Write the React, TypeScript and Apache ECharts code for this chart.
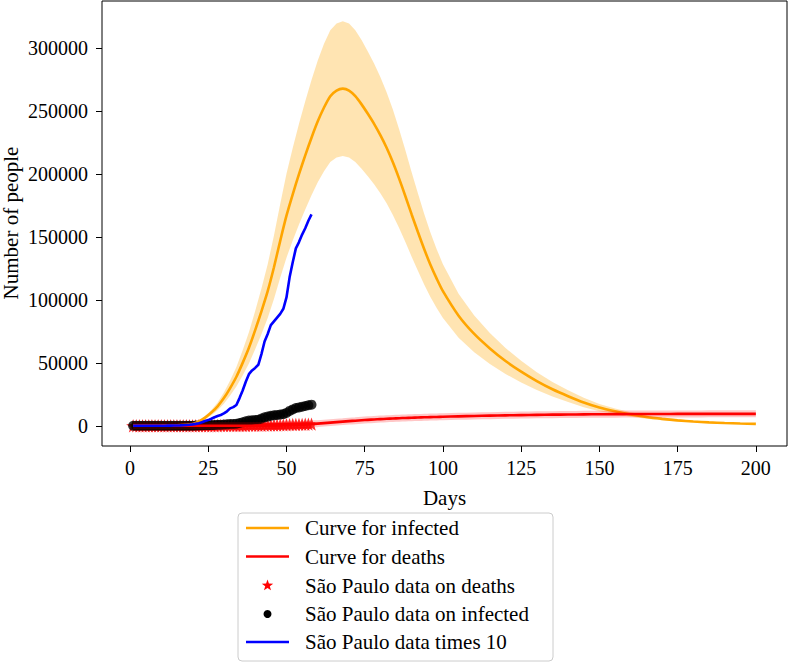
import React, { useEffect, useRef } from "react";
import * as echarts from "echarts";

// ---- model curves (days, values) ----
const modelDays = [1, 5, 10, 15, 18, 20, 22, 24, 26, 28, 30, 32, 34, 36, 38, 40, 42, 44, 46, 48, 50, 52, 54, 56, 58, 60, 62, 64, 66, 68, 70, 72, 74, 76, 78, 80, 82, 84, 86, 88, 90, 92, 94, 96, 98, 100, 105, 110, 115, 120, 125, 130, 135, 140, 145, 150, 155, 160, 165, 170, 175, 180, 185, 190, 195, 200];

const infectedCurve = [20, 50, 120, 350, 800, 1500, 3500, 6500, 10500, 15500, 22000, 30000, 39000, 50000, 62000, 76000, 91000, 107000, 126000, 147000, 167000, 184000, 200000, 215000, 229000, 242000, 253000, 262000, 266500, 268000, 266500, 262000, 255500, 248000, 240000, 231000, 221000, 209500, 196500, 182500, 168000, 154000, 140500, 128000, 117000, 107000, 87500, 73000, 61500, 51500, 43000, 35500, 29000, 23500, 18500, 14500, 11500, 9000, 7000, 5500, 4300, 3400, 2700, 2200, 1800, 1500];

const infectedLow = [16, 40, 96, 280, 640, 1200, 2800, 5200, 8400, 12400, 17600, 24000, 31200, 40000, 49600, 60800, 72800, 85600, 100800, 117600, 133600, 147200, 160000, 172000, 183200, 193600, 202400, 209600, 213200, 214400, 213200, 209600, 204400, 198400, 192000, 184800, 176800, 167600, 157200, 146000, 134400, 123200, 112400, 102400, 93600, 85600, 70000, 58400, 49200, 41200, 34400, 28400, 23200, 18800, 14800, 11600, 9200, 7200, 5600, 4400, 3440, 2720, 2160, 1760, 1440, 1200];

const infectedHigh = [24, 60, 144, 420, 960, 1800, 4200, 7800, 12600, 18600, 26400, 36000, 46800, 60000, 74400, 91200, 109200, 128400, 151200, 176400, 200400, 220800, 240000, 258000, 274800, 290400, 303600, 314400, 319800, 321600, 319800, 314400, 306600, 297600, 288000, 277200, 265200, 251400, 235800, 219000, 201600, 184800, 168600, 153600, 140400, 128400, 105000, 87600, 73800, 61800, 51600, 42600, 34800, 28200, 22200, 17400, 13800, 10800, 8400, 6600, 5160, 4080, 3240, 2640, 2160, 1800];

const deathsCurve = [0, 0, 0, 1, 1, 2, 3, 5, 7, 10, 14, 20, 30, 42, 60, 85, 120, 170, 240, 330, 450, 600, 800, 1050, 1350, 1700, 2100, 2500, 2900, 3300, 3700, 4050, 4400, 4720, 5020, 5300, 5560, 5800, 6020, 6220, 6400, 6570, 6730, 6880, 7020, 7150, 7480, 7780, 8050, 8290, 8500, 8680, 8830, 8960, 9070, 9160, 9240, 9300, 9350, 9390, 9420, 9440, 9460, 9470, 9480, 9490];

// ---- São Paulo data, days 1..58 ----
const spInfected = [1, 1, 1, 2, 2, 2, 2, 3, 3, 4, 6, 10, 13, 16, 19, 30, 46, 65, 80, 110, 152, 200, 280, 380, 450, 560, 680, 780, 860, 980, 1150, 1380, 1480, 1650, 2200, 2800, 3500, 4100, 4400, 4600, 4850, 5700, 6700, 7300, 8000, 8300, 8600, 8900, 9300, 10200, 11800, 13000, 14100, 14600, 15200, 15700, 16300, 16800];

const spDeaths = [0, 0, 0, 0, 0, 0, 0, 0, 0, 0, 0, 0, 0, 0, 0, 0, 0, 0, 0, 1, 2, 3, 4, 9, 15, 22, 30, 40, 48, 68, 84, 98, 111, 136, 164, 188, 218, 260, 275, 304, 371, 428, 496, 540, 560, 588, 608, 695, 778, 832, 853, 991, 1015, 1093, 1134, 1221, 1299, 1345];

const spTimes = 10;

const xTicks = [0, 25, 50, 75, 100, 125, 150, 175, 200];
const yTicks = [0, 50000, 100000, 150000, 200000, 250000, 300000];

const xAxisName = "Days";
const yAxisName = "Number of people";
const legendLabels = [
  "Curve for infected",
  "Curve for deaths",
  "São Paulo data on deaths",
  "São Paulo data on infected",
  "São Paulo data times 10",
];

const FONT = "Liberation Serif";
const WORD_SIZE = 21;
const STAR = "path://M0,-10 L2.35,-3.24 L9.51,-3.09 L3.8,1.24 L5.88,8.09 L0,4 L-5.88,8.09 L-3.8,1.24 L-9.51,-3.09 L-2.35,-3.24 Z";

function starPoints(cx: number, cy: number, r: number) {
  const pts: number[][] = [];
  for (let i = 0; i < 10; i++) {
    const a = -Math.PI / 2 + (i * Math.PI) / 5;
    const rr = i % 2 === 0 ? r : r * 0.4;
    pts.push([cx + rr * Math.cos(a), cy + rr * Math.sin(a)]);
  }
  return pts;
}

export default function App() {
  const ref = useRef<HTMLDivElement>(null);
  useEffect(() => {
    document.body.style.margin = "0";
    if (!ref.current) return;
    const chart = echarts.init(ref.current, null, { renderer: "svg" });
    const pairs = (xs: number[], ys: number[]) => xs.map((x, i) => [x, ys[i]]);
    const spDays = spInfected.map((_, i) => i + 1);

    const legX = 238, legY = 513, legW = 315, legH = 148;
    const rowY = [528, 556.5, 585.5, 614, 642];
    const hx0 = 246, hx1 = 289, hxc = 267.5, tx = 305;
    const graphics: any[] = [
      { type: "text", x: 11, y: 223, rotation: Math.PI / 2, style: { text: yAxisName, fill: "#000", fontFamily: FONT, fontSize: WORD_SIZE, align: "center", verticalAlign: "middle" } },
      { type: "rect", shape: { x: legX, y: legY, width: legW, height: legH, r: 4 }, style: { fill: "rgba(255,255,255,0.8)", stroke: "#cccccc", lineWidth: 1 } },
      { type: "line", shape: { x1: hx0, y1: rowY[0], x2: hx1, y2: rowY[0] }, style: { stroke: "#FFA500", lineWidth: 2.6 } },
      { type: "line", shape: { x1: hx0, y1: rowY[1], x2: hx1, y2: rowY[1] }, style: { stroke: "#FF0000", lineWidth: 2.6 } },
      { type: "polygon", shape: { points: starPoints(hxc, rowY[2], 6) }, style: { fill: "#FF0000" } },
      { type: "circle", shape: { cx: hxc, cy: rowY[3], r: 4 }, style: { fill: "#000000" } },
      { type: "line", shape: { x1: hx0, y1: rowY[4], x2: hx1, y2: rowY[4] }, style: { stroke: "#0000FF", lineWidth: 2.6 } },
    ];
    legendLabels.forEach((t, i) => {
      graphics.push({ type: "text", x: tx, y: rowY[i], style: { text: t, fill: "#000", fontFamily: FONT, fontSize: WORD_SIZE, verticalAlign: "middle" } });
    });

    const option: any = {
      animation: false,
      grid: { left: 102, right: 1, top: 1, bottom: 217, containLabel: false, outerBoundsMode: "none", show: true, borderColor: "#000", borderWidth: 1, backgroundColor: "transparent" },
      xAxis: {
        type: "value", min: -8.95, max: 209.95,
        name: xAxisName, nameLocation: "middle", nameGap: 41,
        nameTextStyle: { fontFamily: FONT, fontSize: WORD_SIZE, color: "#000" },
        axisLine: { show: false, onZero: false },
        splitLine: { show: false },
        axisTick: { show: true, inside: false, length: 6, customValues: xTicks, lineStyle: { color: "#000", width: 1 } },
        axisLabel: { customValues: xTicks, margin: 12, color: "#000", fontFamily: FONT, fontSize: 20, formatter: (v: number) => String(Math.round(v)) },
      },
      yAxis: {
        type: "value", min: -16080, max: 337680,
        axisLine: { show: false, onZero: false },
        splitLine: { show: false },
        axisTick: { show: true, inside: false, length: 6, customValues: yTicks, lineStyle: { color: "#000", width: 1 } },
        axisLabel: { customValues: yTicks, margin: 14, color: "#000", fontFamily: FONT, fontSize: 20, formatter: (v: number) => String(Math.round(v)) },
      },
      series: [
        {
          name: "infected-band", type: "custom", silent: true, clip: false,
          data: [[modelDays[0], infectedLow[0]]],
          renderItem: (_p: any, api: any) => {
            const top = modelDays.map((d, i) => api.coord([d, infectedHigh[i]]));
            const bottom = modelDays.map((d, i) => api.coord([d, infectedLow[i]])).reverse();
            return { type: "polygon", shape: { points: top.concat(bottom), smooth: 0 }, style: { fill: "rgba(255,165,0,0.3)", stroke: "none" } };
          },
        },
        { name: legendLabels[0], type: "line", data: pairs(modelDays, infectedCurve), symbol: "none", smooth: 0.25, lineStyle: { color: "#FFA500", width: 2.6 } },
        { name: "deaths-band", type: "line", data: pairs(modelDays, deathsCurve), symbol: "none", smooth: 0.25, lineStyle: { color: "rgba(255,0,0,0.22)", width: 7 }, silent: true },
        { name: legendLabels[1], type: "line", data: pairs(modelDays, deathsCurve), symbol: "none", smooth: 0.25, lineStyle: { color: "#FF0000", width: 2.6 } },
        { name: legendLabels[2], type: "scatter", data: pairs(spDays, spDeaths), symbol: STAR, symbolKeepAspect: true, symbolSize: 14, itemStyle: { color: "#FF0000" } },
        { name: legendLabels[3], type: "scatter", data: pairs(spDays, spInfected), symbol: "circle", symbolSize: 10, itemStyle: { color: "#000000" } },
        { name: legendLabels[4], type: "line", data: pairs(spDays, spInfected.map((v) => v * spTimes)), symbol: "none", lineStyle: { color: "#0000FF", width: 2.6 } },
      ],
      graphic: graphics,
    };
    chart.setOption(option);
    return () => chart.dispose();
  }, []);
  return <div ref={ref} style={{ width: 788, height: 663 }} />;
}
